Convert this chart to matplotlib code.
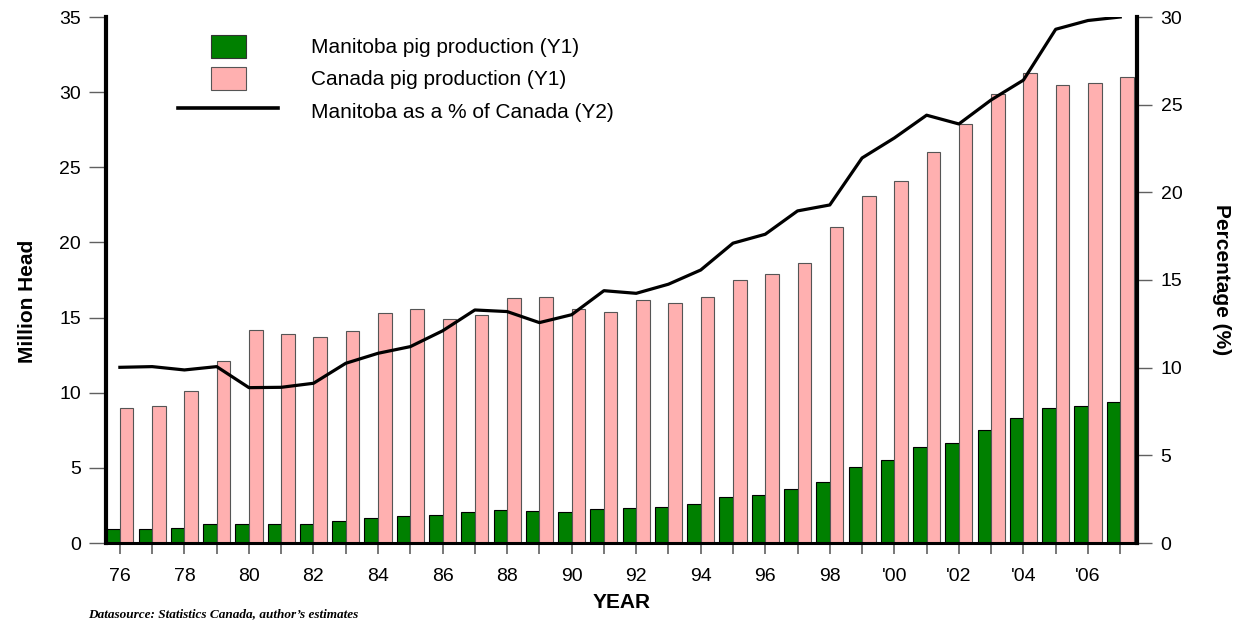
import matplotlib
matplotlib.use('Agg')
import matplotlib.pyplot as plt
import matplotlib.patches as patches
from matplotlib.legend_handler import HandlerPatch
import numpy as np

years = list(range(1976, 2008))
manitoba = [0.93, 0.93, 1.0, 1.26, 1.26, 1.26, 1.26, 1.44, 1.66, 1.8,
            1.84, 2.04, 2.17, 2.11, 2.04, 2.24, 2.31, 2.37, 2.57, 3.04,
            3.17, 3.57, 4.08, 5.08, 5.52, 6.39, 6.65, 7.5, 8.3, 8.96,
            9.1, 9.36]
canada = [9.0, 9.1, 10.1, 12.1, 14.2, 13.9, 13.7, 14.1, 15.3, 15.6,
          14.9, 15.2, 16.3, 16.4, 15.6, 15.4, 16.2, 16.0, 16.4, 17.5,
          17.9, 18.6, 21.0, 23.1, 24.1, 26.0, 27.9, 29.9, 31.3, 30.5,
          30.6, 31.0]
share = [10.02, 10.06, 9.87, 10.06, 8.86, 8.88, 9.11, 10.25, 10.82, 11.2,
         12.1, 13.29, 13.2, 12.57, 13.02, 14.39, 14.24, 14.76, 15.57, 17.1,
         17.61, 18.94, 19.28, 21.96, 23.1, 24.4, 23.9, 25.27, 26.4, 29.3,
         29.8, 30.0]
tick_labels = [("'%02d" % (y % 100) if y >= 2000 else str(y % 100)) if y % 2 == 0 else ''
               for y in years]
legend_labels = ['Manitoba pig production (Y1)', 'Canada pig production (Y1)',
                 'Manitoba as a % of Canada (Y2)']

GREEN = '#008000'
PINK = '#FFB0B0'
TICK_GREY = '#606060'
SANS = ['Liberation Sans', 'DejaVu Sans']
NARROW = ['Liberation Sans Narrow', 'Liberation Sans', 'DejaVu Sans']

plt.rcParams['font.family'] = SANS

fig = plt.figure(figsize=(12.49, 6.2), dpi=100)
ax = fig.add_axes([106 / 1249, 1 - 543 / 620, (1137 - 106) / 1249, (543 - 17) / 620])

x = np.arange(len(years))
w = 0.42
ax.bar(x - w / 2, manitoba, w, color=GREEN, edgecolor='black', linewidth=0.8, zorder=2)
ax.bar(x + w / 2, canada, w, color=PINK, edgecolor='#555555', linewidth=0.8, zorder=2)

ax.set_xlim(-0.43, 31.52)
ax.set_ylim(0, 35)
ax.set_yticks(range(0, 36, 5))
ax.set_xticks(x)
ax.set_xticklabels(tick_labels)

for s in ['top', 'right']:
    ax.spines[s].set_visible(False)
ax.spines['left'].set_linewidth(3)
ax.spines['bottom'].set_linewidth(2.2)
ax.spines['bottom'].set_zorder(3)

ax.tick_params(axis='y', direction='out', length=12, width=1, color=TICK_GREY,
               labelsize=14, pad=6)
ax.tick_params(axis='x', direction='out', length=8, width=1.2, color=TICK_GREY,
               labelsize=14, pad=10)

ax2 = ax.twinx()
ax2.plot(x, share, color='black', linewidth=2.3, zorder=4)
ax2.set_ylim(0, 30)
ax2.set_yticks(range(0, 31, 5))
for s in ['top', 'left', 'bottom']:
    ax2.spines[s].set_visible(False)
ax2.spines['right'].set_linewidth(3)
ax2.tick_params(axis='y', direction='out', length=11, width=1, color=TICK_GREY,
                labelsize=14, pad=6)

ax.set_ylabel('Million Head', family=NARROW, fontweight='bold', fontsize=15)
ax.yaxis.set_label_coords(-0.067, 0.46)
ax2.set_ylabel('Percentage (%)', family=NARROW, fontweight='bold', fontsize=15,
               rotation=-90, va='center')
ax2.yaxis.set_label_coords(1.082, 0.5)
ax.set_xlabel('YEAR', fontweight='bold', fontsize=15, labelpad=6)

fig.text(88 / 1249, 1 - 614 / 620, 'Datasource: Statistics Canada, author\u2019s estimates',
         family=['Liberation Serif', 'DejaVu Serif'], style='italic', fontweight='bold',
         fontsize=9.5, va='center', ha='left')

# legend proxies
h_mb = patches.Rectangle((0, 0), 1, 1, facecolor=GREEN, edgecolor='#333333', linewidth=0.8)
h_ca = patches.Rectangle((0, 0), 1, 1, facecolor=PINK, edgecolor='#555555', linewidth=0.8)
h_line = plt.Line2D([], [], color='black', linewidth=2.6)


def square_patch(legend, orig_handle, xdescent, ydescent, width, height, fontsize):
    side_w = 35 * 0.72
    return patches.Rectangle((width / 2 - side_w / 2 - xdescent, -ydescent), side_w, height)


fig.legend([h_mb, h_ca, h_line], legend_labels,
           loc='upper left', bbox_to_anchor=(178 / 1249, 1 - 35 / 620),
           frameon=False, fontsize=15, handlelength=4.8, handleheight=1.3,
           handletextpad=1.6, labelspacing=0.45, borderpad=0, borderaxespad=0,
           handler_map={patches.Rectangle: HandlerPatch(patch_func=square_patch)})

fig.savefig('out.png', dpi=100)
